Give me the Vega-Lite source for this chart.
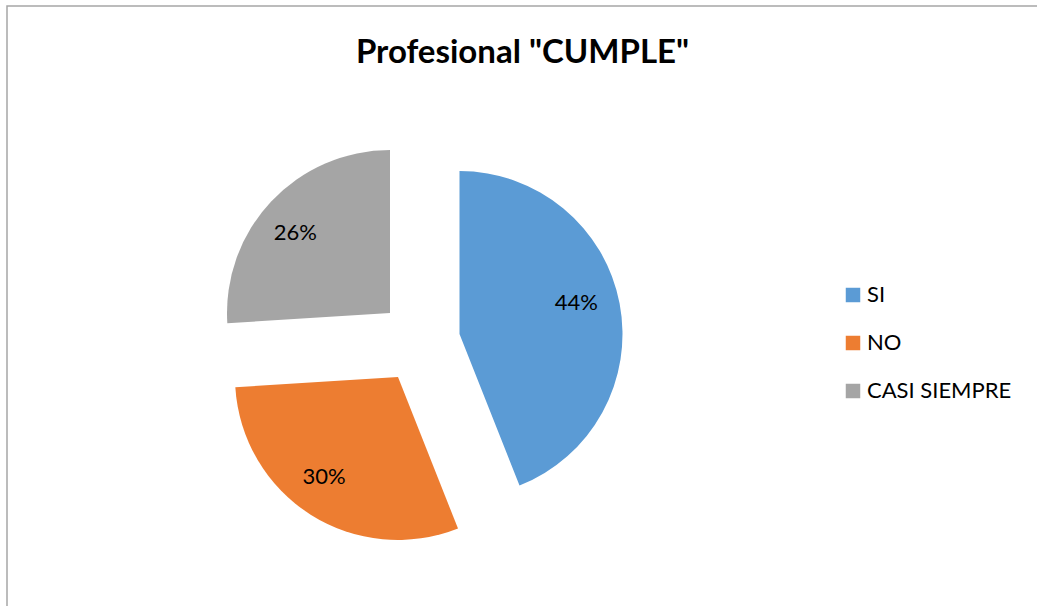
{
  "$schema": "https://vega.github.io/schema/vega-lite/v6.json",
  "width": 1031,
  "height": 601,
  "autosize": "none",
  "padding": {"left": 7, "top": 6, "right": 0, "bottom": 0},
  "background": "white",
  "view": {"stroke": "#a6a6a6", "strokeWidth": 1.5},
  "config": {
    "view": {"stroke": "#a6a6a6", "strokeWidth": 1.5},
    "font": "Lato"
  },
  "title": {
    "text": "Profesional \"CUMPLE\"",
    "font": "Lato",
    "fontSize": 33,
    "fontWeight": "bold",
    "color": "#000000",
    "anchor": "middle",
    "baseline": "alphabetic",
    "offset": -90
  },
  "data": {
    "values": [
      {"cat": "SI", "value": 0.44, "ord": 1},
      {"cat": "NO", "value": 0.30, "ord": 2},
      {"cat": "CASI SIEMPRE", "value": 0.26, "ord": 3}
    ]
  },
  "encoding": {
    "theta": {"field": "value", "type": "quantitative", "stack": true},
    "order": {"field": "ord", "type": "quantitative"}
  },
  "layer": [
    {
      "mark": {"type": "arc", "outerRadius": 163, "xOffset": -63, "yOffset": 27.5},
      "encoding": {
        "color": {
          "field": "cat", "type": "nominal",
          "scale": {"domain": ["SI", "NO", "CASI SIEMPRE"], "range": ["#5B9BD5", "#ED7D31", "#A5A5A5"]},
          "legend": {
            "title": null, "orient": "none", "legendX": 835, "legendY": 278,
            "symbolType": "square", "symbolSize": 210, "symbolStrokeWidth": 0,
            "labelFont": "Lato", "labelFontSize": 22, "labelColor": "#000000",
            "labelOffset": 3, "rowPadding": 26, "padding": 0
          }
        },
        "opacity": {"condition": {"test": "datum.cat === 'SI'", "value": 1}, "value": 0}
      }
    },
    {
      "mark": {"type": "arc", "outerRadius": 163, "xOffset": -124.5, "yOffset": 70.5},
      "encoding": {
        "color": {"field": "cat", "type": "nominal"},
        "opacity": {"condition": {"test": "datum.cat === 'NO'", "value": 1}, "value": 0}
      }
    },
    {
      "mark": {"type": "arc", "outerRadius": 163, "xOffset": -132.5, "yOffset": 6.5},
      "encoding": {
        "color": {"field": "cat", "type": "nominal"},
        "opacity": {"condition": {"test": "datum.cat === 'CASI SIEMPRE'", "value": 1}, "value": 0}
      }
    },
    {
      "mark": {"type": "text", "radius": 123, "xOffset": -63, "yOffset": 27.5, "dx": -4, "dy": -8, "fontSize": 22, "font": "Lato", "color": "#000000", "align": "center", "baseline": "middle"},
      "encoding": {
        "text": {"field": "value", "type": "quantitative", "format": ".0%"},
        "opacity": {"condition": {"test": "datum.cat === 'SI'", "value": 1}, "value": 0}
      }
    },
    {
      "mark": {"type": "text", "radius": 123, "xOffset": -124.5, "yOffset": 70.5, "dx": -8, "dy": -4, "fontSize": 22, "font": "Lato", "color": "#000000", "align": "center", "baseline": "middle"},
      "encoding": {
        "text": {"field": "value", "type": "quantitative", "format": ".0%"},
        "opacity": {"condition": {"test": "datum.cat === 'NO'", "value": 1}, "value": 0}
      }
    },
    {
      "mark": {"type": "text", "radius": 123, "xOffset": -132.5, "yOffset": 6.5, "dx": -5, "dy": 4, "fontSize": 22, "font": "Lato", "color": "#000000", "align": "center", "baseline": "middle"},
      "encoding": {
        "text": {"field": "value", "type": "quantitative", "format": ".0%"},
        "opacity": {"condition": {"test": "datum.cat === 'CASI SIEMPRE'", "value": 1}, "value": 0}
      }
    }
  ]
}
